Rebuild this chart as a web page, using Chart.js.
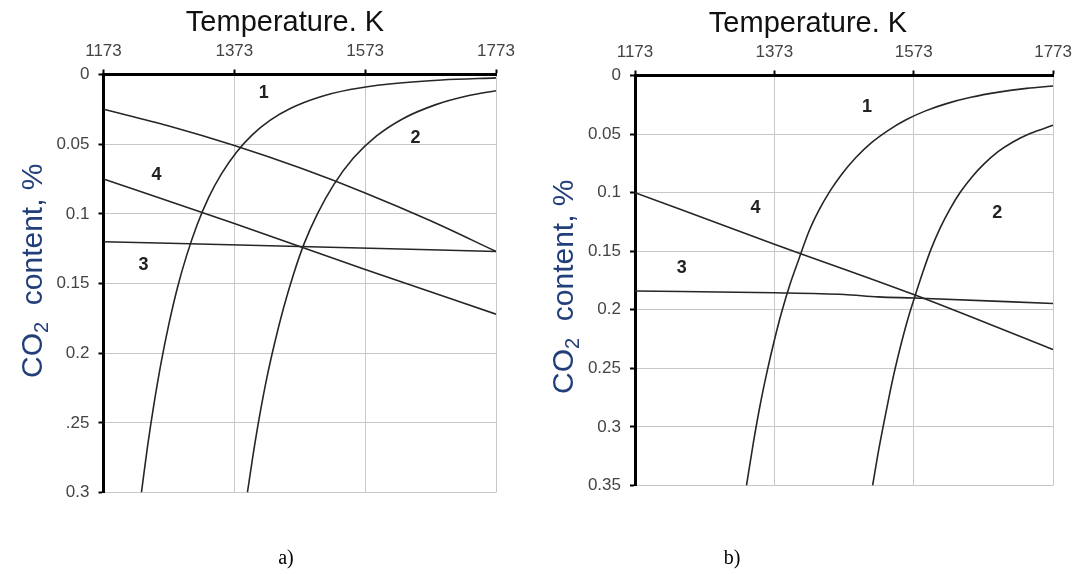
<!DOCTYPE html>
<html>
<head>
<meta charset="utf-8">
<script src="https://cdn.jsdelivr.net/npm/chart.js@4.4.1/dist/chart.umd.min.js"></script>
<style>
  body { margin: 0; background: #fff; width: 1080px; height: 574px; overflow: hidden; position: relative; }
  canvas { position: absolute; top: 0; }
  #chartA { left: 0; }
  #chartB { left: 540px; }
  .cap { position: absolute; width: 60px; text-align: center; font-family: "Liberation Serif", "Times New Roman", serif; font-size: 20px; line-height: 20px; color: #000; }
</style>
</head>
<body>
<canvas id="chartA" width="540" height="574"></canvas>
<canvas id="chartB" width="540" height="574"></canvas>
<div class="cap" style="left:256px; top:547px;">a)</div>
<div class="cap" style="left:702px; top:547px;">b)</div>
<script>
const fam = '"Liberation Sans", Arial, sans-serif';

// axis ticks and titles
const tempTicks = [1173, 1373, 1573, 1773];
const tempLabels = ['1173', '1373', '1573', '1773'];
const co2TicksA = [0, 0.05, 0.1, 0.15, 0.2, 0.25, 0.3];
const co2LabelsA = ['0', '0.05', '0.1', '0.15', '0.2', '.25', '0.3'];
const co2TicksB = [0, 0.05, 0.1, 0.15, 0.2, 0.25, 0.3, 0.35];
const co2LabelsB = ['0', '0.05', '0.1', '0.15', '0.2', '0.25', '0.3', '0.35'];
const xTitle = 'Temperature. K';

// chart a) curves (temperature K, CO2 %)
const tA1 = [1231, 1240, 1250, 1261, 1273, 1286, 1300, 1316, 1334, 1354, 1376, 1400, 1428, 1460, 1500, 1550, 1610, 1690, 1773];
const vA1 = [0.3, 0.268, 0.237, 0.207, 0.179, 0.153, 0.130, 0.108, 0.088, 0.0708, 0.0559, 0.0435, 0.0328, 0.0241, 0.0167, 0.0108, 0.0068, 0.0039, 0.0024];
const tA2 = [1393, 1402, 1412, 1423, 1435, 1448, 1463, 1480, 1500, 1525, 1555, 1590, 1630, 1680, 1730, 1773];
const vA2 = [0.3, 0.272, 0.244, 0.217, 0.192, 0.168, 0.144, 0.121, 0.1, 0.079, 0.060, 0.0443, 0.0319, 0.0218, 0.0153, 0.0116];
const tA3 = [1173, 1473, 1773];
const vA3 = [0.12, 0.1234, 0.127];
const tA4 = [1173, 1373, 1573, 1773];
const vA4 = [0.075, 0.107, 0.14, 0.172];
const tA5 = [1173, 1273, 1373, 1473, 1573, 1673, 1773];
const vA5 = [0.025, 0.037, 0.051, 0.067, 0.085, 0.105, 0.127];

// chart b) curves
const tB1 = [1333, 1343, 1353, 1363, 1373, 1383, 1395, 1408, 1422, 1437, 1453, 1470, 1490, 1512, 1536, 1562, 1590, 1620, 1655, 1695, 1735, 1773];
const vB1 = [0.35, 0.313, 0.280, 0.2515, 0.226, 0.203, 0.179, 0.157, 0.134, 0.115, 0.0985, 0.084, 0.070, 0.0575, 0.047, 0.0378, 0.0302, 0.024, 0.0186, 0.0142, 0.011, 0.0089];
const tB2 = [1514, 1522, 1530, 1538, 1546, 1555, 1565, 1575, 1586, 1598, 1611, 1625, 1640, 1656, 1674, 1694, 1716, 1740, 1773];
const vB2 = [0.35, 0.322, 0.297, 0.273, 0.251, 0.229, 0.207, 0.188, 0.168, 0.148, 0.130, 0.114, 0.0995, 0.087, 0.0755, 0.065, 0.0565, 0.0495, 0.0425];
const tB3 = [1173, 1373, 1473, 1522, 1573, 1773];
const vB3 = [0.184, 0.1855, 0.187, 0.189, 0.19, 0.1946];
const tB4 = [1173, 1373, 1573, 1773];
const vB4 = [0.1, 0.144, 0.187, 0.234];

// curve numbers and where they sit (data units)
const curveNames = ['1', '2', '3', '4'];
const nameTempA = [1418, 1650, 1234, 1254];
const nameCo2A = [0.0135, 0.0458, 0.137, 0.0723];
const nameTempB = [1506, 1693, 1240, 1346];
const nameCo2B = [0.0266, 0.117, 0.164, 0.113];

//texts drawn on top of the chart
const textPlugin = {
  id: 'texts',
  afterDraw(chart, args, o) {
    const ctx = chart.ctx, xs = chart.scales.x, ys = chart.scales.y;
    ctx.save();
    ctx.fillStyle = '#222';
    ctx.font = 'bold 18px ' + fam;
    ctx.textAlign = 'center';
    ctx.textBaseline = 'middle';
    curveNames.forEach((n, i) => {
      ctx.fillText(n, xs.getPixelForValue(o.nt[i]), ys.getPixelForValue(o.nv[i]));
    });
    // top title
    ctx.fillStyle = '#111';
    ctx.font = '29px ' + fam;
    ctx.textBaseline = 'alphabetic';
    ctx.fillText(xTitle, o.xtX, o.xtY);
    // side title, CO2 with subscript
    ctx.translate(o.ytX, o.ytY);
    ctx.rotate(-Math.PI / 2);
    ctx.textAlign = 'left';
    ctx.fillStyle = '#233f7a';
    ctx.font = '30px ' + fam;
    ctx.fillText('CO', 0, 0);
    let w = ctx.measureText('CO').width;
    ctx.font = '20px ' + fam;
    ctx.fillText('2', w, 6);
    w += ctx.measureText('2').width;
    ctx.font = '30px ' + fam;
    ctx.fillText('  content, %', w, 0);
    ctx.restore();
  }
};

function buildChart(id, c) {
  const grid = { color: '#c8c8c8', lineWidth: 1, tickColor: '#000', tickLength: 5, tickWidth: 2 };
  return new Chart(document.getElementById(id), {
    type: 'line',
    data: {
      datasets: c.series.map(s => ({
        data: s[0].map((t, i) => ({ x: t, y: s[1][i] })),
        borderColor: '#262626',
        borderWidth: 1.6,
        pointRadius: 0,
        fill: false,
        cubicInterpolationMode: 'monotone'
      }))
    },
    options: {
      responsive: false,
      animation: false,
      devicePixelRatio: 1,
      layout: { padding: c.padding },
      plugins: { legend: { display: false }, tooltip: { enabled: false }, texts: c.texts },
      scales: {
        x: {
          type: 'linear', position: 'top', min: 1173, max: 1773,
          afterBuildTicks: s => { s.ticks = tempTicks.map(v => ({ value: v })); },
          afterFit: s => { s.height = c.top; },
          ticks: { callback: (v, i) => tempLabels[i], color: '#444', font: { size: 17, family: fam }, padding: 8, maxRotation: 0, autoSkip: false },
          grid: grid,
          border: { color: '#000', width: 3 }
        },
        y: {
          type: 'linear', reverse: true, min: 0, max: c.yMax,
          afterBuildTicks: s => { s.ticks = c.yTicks.map(v => ({ value: v })); },
          afterFit: s => { s.width = c.left; },
          ticks: { callback: (v, i) => c.yLabels[i], color: '#444', font: { size: 17, family: fam }, padding: 9, autoSkip: false },
          grid: grid,
          border: { color: '#000', width: 3 }
        }
      }
    },
    plugins: [textPlugin]
  });
}

buildChart('chartA', {
  series: [[tA1, vA1], [tA2, vA2], [tA3, vA3], [tA4, vA4], [tA5, vA5]],
  yMax: 0.3, yTicks: co2TicksA, yLabels: co2LabelsA,
  left: 103.5, top: 74.5,
  padding: { left: 0, top: 0, right: 44, bottom: 81.5 },
  texts: { nt: nameTempA, nv: nameCo2A, xtX: 285, xtY: 31, ytX: 42, ytY: 378 }
});

buildChart('chartB', {
  series: [[tB1, vB1], [tB2, vB2], [tB3, vB3], [tB4, vB4]],
  yMax: 0.35, yTicks: co2TicksB, yLabels: co2LabelsB,
  left: 95, top: 75.5,
  padding: { left: 0, top: 0, right: 24, bottom: 88.5 },
  texts: { nt: nameTempB, nv: nameCo2B, xtX: 268, xtY: 32, ytX: 33, ytY: 394 }
});
</script>
</body>
</html>
